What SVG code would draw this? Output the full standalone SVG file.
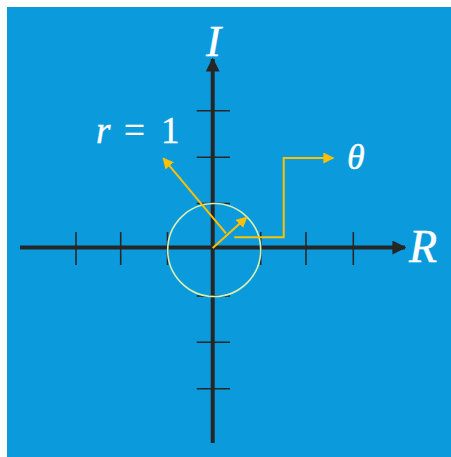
<svg xmlns="http://www.w3.org/2000/svg" width="451" height="457" viewBox="0 0 451 457">
<defs>
<style>
.axis{stroke:#262626;stroke-width:4;fill:none}
.tick{stroke:#262626;stroke-width:1.6;fill:none}
.ya{stroke:#ffc000;stroke-width:2;fill:none}
.lbl{font-family:"Liberation Serif",serif;fill:#ffffff;stroke:#ffffff;stroke-width:0.4}
</style>
<marker id="ax" viewBox="0 0 10 10" refX="9" refY="5" markerWidth="3.5" markerHeight="3.5" orient="auto" markerUnits="strokeWidth">
<path d="M0,0 L10,5 L0,10 Z" fill="#262626"/>
</marker>
<marker id="ya" viewBox="0 0 10 10" refX="9" refY="5" markerWidth="5.5" markerHeight="5.5" orient="auto" markerUnits="strokeWidth">
<path d="M0,0 L10,5 L0,10 Z" fill="#ffc000"/>
</marker>
</defs>
<rect x="7" y="7" width="444" height="450" fill="#0b9bdd"/>
<g id="axes">
<line class="axis" x1="20" y1="247.5" x2="405" y2="247.5" marker-end="url(#ax)"/>
<line class="axis" x1="212.7" y1="443" x2="212.7" y2="59" marker-end="url(#ax)"/>
</g>
<g id="ticks">
<line class="tick" x1="76" y1="232" x2="76" y2="265"/>
<line class="tick" x1="120.7" y1="232" x2="120.7" y2="265"/>
<line class="tick" x1="167.5" y1="232" x2="167.5" y2="265"/>
<line class="tick" x1="260.7" y1="232" x2="260.7" y2="265"/>
<line class="tick" x1="306" y1="232" x2="306" y2="265"/>
<line class="tick" x1="353.3" y1="232" x2="353.3" y2="265"/>
<line class="tick" x1="196.7" y1="110.7" x2="230" y2="110.7"/>
<line class="tick" x1="196.7" y1="157.3" x2="230" y2="157.3"/>
<line class="tick" x1="196.7" y1="203.5" x2="230" y2="203.5"/>
<line class="tick" x1="196.7" y1="296" x2="230" y2="296"/>
<line class="tick" x1="196.7" y1="342.3" x2="230" y2="342.3"/>
<line class="tick" x1="196.7" y1="388.7" x2="230" y2="388.7"/>
</g>
<g id="circle">
<circle cx="214.2" cy="250" r="46.5" fill="none" stroke="#d6eeb0" stroke-width="1.6"/>
</g>
<g id="connectors">
<line class="ya" x1="212.7" y1="248" x2="246.7" y2="217.3" marker-end="url(#ya)"/>
<line class="ya" x1="226" y1="233.3" x2="163.3" y2="158.3" marker-end="url(#ya)"/>
<polyline class="ya" points="234.3,237.3 283.7,237.3 283.7,158 333.3,158" marker-end="url(#ya)"/>
</g>
<g id="labels">
<text class="lbl" x="96" y="143" font-size="37"><tspan font-style="italic">r</tspan><tspan x="124">=</tspan><tspan x="161">1</tspan></text>
<text class="lbl" x="347" y="169" font-size="36" font-style="italic">θ</text>
<text class="lbl" x="409" y="261.5" font-size="46" font-style="italic">R</text>
<text class="lbl" x="206" y="56" font-size="45" font-style="italic">I</text>
</g>
</svg>
